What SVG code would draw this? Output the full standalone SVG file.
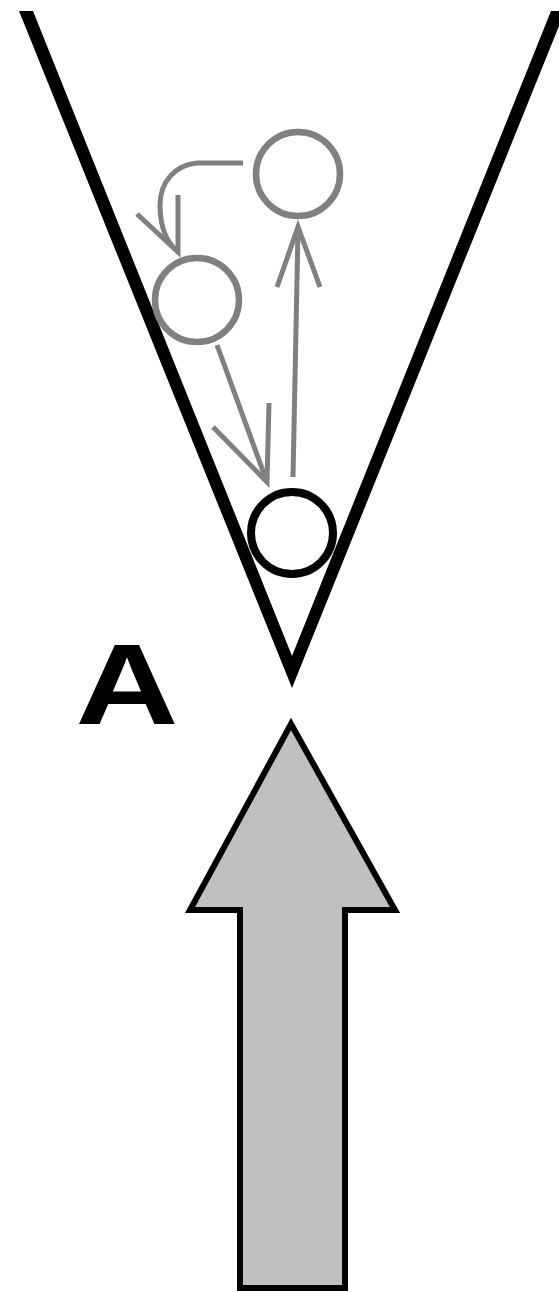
<svg xmlns="http://www.w3.org/2000/svg" width="559" height="1292" viewBox="0 0 559 1292">
<style>
.g{fill:none;stroke:#808080;stroke-width:5;stroke-linejoin:miter}
.c{fill:none;stroke:#808080;stroke-width:6.5}
.k{fill:none;stroke:#000;stroke-width:8}
</style>
<rect width="559" height="1292" fill="#fff"/>
<g id="funnel">
<polygon points="19,11 292,688 565,11 551,11 292,656 33,11" fill="#000"/>
</g>
<g id="ball-top"><circle cx="298" cy="174" r="42" class="c"/></g>
<g id="ball-mid"><circle cx="197" cy="300" r="42" class="c"/></g>
<g id="ball-bottom"><circle cx="292" cy="533" r="41" class="k"/></g>
<g id="label-A"><text x="127" y="724" transform="translate(127 0) scale(1.24 1) translate(-127 0)" text-anchor="middle" font-family="Liberation Sans, Arial, sans-serif" font-weight="bold" font-size="115" fill="#000">A</text></g>
<g id="big-arrow"><polygon points="291,724 395,910 345,910 345,1288 240,1288 240,910 190,910" fill="#c0c0c0" stroke="#000" stroke-width="6" stroke-linejoin="miter"/></g>
<g id="connectors">
<path class="g" d="M243,163 L197,163 C175,165 160,182 160,205 C160,225 166,242 178,252"/>
<polyline class="g" points="137,214 178,252 178,195"/>
<line class="g" x1="217" y1="345" x2="267" y2="482"/>
<polyline class="g" points="213,427 267,482 269,403"/>
<line class="g" x1="293" y1="477" x2="298" y2="230"/>
<polyline class="g" points="277,287 298,227 320,287"/>
</g>
</svg>
